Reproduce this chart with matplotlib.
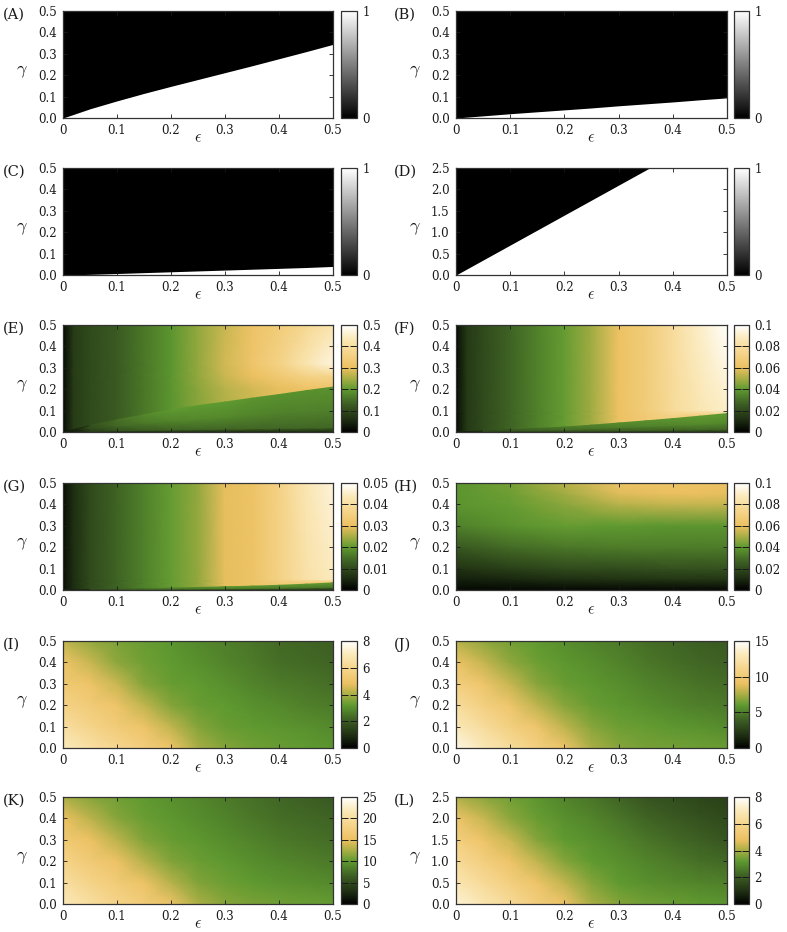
import numpy as np
import matplotlib
matplotlib.use('Agg')
import matplotlib.pyplot as plt
from matplotlib.colors import LinearSegmentedColormap, Normalize
from matplotlib.cm import ScalarMappable

plt.rcParams['font.family'] = ['DejaVu Serif']
plt.rcParams['mathtext.fontset'] = 'cm'

# ---------------------------------------------------------------- data
eps_ticks = [0, 0.1, 0.2, 0.3, 0.4, 0.5]
eps_tick_labels = ['0', '0.1', '0.2', '0.3', '0.4', '0.5']
gam_ticks = [0, 0.1, 0.2, 0.3, 0.4, 0.5]
gam_tick_labels = ['0.0', '0.1', '0.2', '0.3', '0.4', '0.5']
gam_ticks_big = [0, 0.5, 1.0, 1.5, 2.0, 2.5]
gam_tick_labels_big = ['0.0', '0.5', '1.0', '1.5', '2.0', '2.5']

# binary panels (A-D): boundary gamma_c(eps); black above, white below
bnd_eps = [0, 0.05, 0.1, 0.15, 0.2, 0.25, 0.3, 0.35, 0.4, 0.45, 0.5]
A_boundary = [0, 0.043, 0.080, 0.115, 0.148, 0.180, 0.212, 0.244, 0.277, 0.310, 0.344]
B_boundary = [0, 0.010, 0.020, 0.029, 0.038, 0.047, 0.057, 0.066, 0.075, 0.085, 0.094]
C_boundary = [0, 0.003, 0.007, 0.011, 0.015, 0.019, 0.023, 0.027, 0.031, 0.035, 0.040]
D_boundary = [0, 0.35, 0.70, 1.05, 1.40, 1.75, 2.10, 2.45, 2.80, 3.15, 3.50]

# E-G: upper field (eps x gamma grid) + lower field below a boundary
up_eps = [0, 0.005, 0.02, 0.05, 0.1, 0.15, 0.2, 0.25, 0.3, 0.35, 0.4, 0.45, 0.5]
E_up_gam = [0, 0.2, 0.26, 0.32, 0.5]
E_up = [
    [0, 0.03, 0.08, 0.10, 0.125, 0.16, 0.195, 0.225, 0.25, 0.27, 0.29, 0.30, 0.31],
    [0, 0.03, 0.08, 0.10, 0.125, 0.16, 0.195, 0.230, 0.26, 0.28, 0.295, 0.305, 0.31],
    [0, 0.03, 0.08, 0.10, 0.125, 0.16, 0.195, 0.235, 0.275, 0.30, 0.33, 0.36, 0.37],
    [0, 0.03, 0.08, 0.10, 0.125, 0.16, 0.195, 0.235, 0.28, 0.315, 0.36, 0.42, 0.47],
    [0, 0.03, 0.08, 0.10, 0.125, 0.16, 0.195, 0.235, 0.275, 0.31, 0.34, 0.38, 0.42],
]
F_up_gam = [0, 0.075, 0.1, 0.5]
F_up = [
    [0, 0.006, 0.015, 0.020, 0.027, 0.034, 0.041, 0.049, 0.061, 0.067, 0.072, 0.068, 0.064],
    [0, 0.006, 0.015, 0.020, 0.027, 0.034, 0.041, 0.049, 0.061, 0.067, 0.072, 0.068, 0.064],
    [0, 0.006, 0.015, 0.020, 0.027, 0.034, 0.041, 0.049, 0.061, 0.068, 0.078, 0.085, 0.090],
    [0, 0.006, 0.015, 0.020, 0.027, 0.034, 0.041, 0.049, 0.061, 0.068, 0.079, 0.090, 0.099],
]
G_up_gam = [0, 0.035, 0.05, 0.5]
G_up = [
    [0, 0.003, 0.006, 0.010, 0.0135, 0.017, 0.0205, 0.0235, 0.0295, 0.031, 0.034, 0.034, 0.032],
    [0, 0.003, 0.006, 0.010, 0.0135, 0.017, 0.0205, 0.0235, 0.0295, 0.031, 0.034, 0.034, 0.032],
    [0, 0.003, 0.006, 0.010, 0.0135, 0.017, 0.0205, 0.0235, 0.0295, 0.031, 0.036, 0.041, 0.044],
    [0, 0.003, 0.006, 0.010, 0.0135, 0.017, 0.0205, 0.0235, 0.0295, 0.031, 0.036, 0.0425, 0.0465],
]

low_eps = [0, 0.05, 0.1, 0.15, 0.2, 0.25, 0.3, 0.35, 0.4, 0.45, 0.5]
E_boundary = [0, 0.030, 0.057, 0.080, 0.104, 0.123, 0.140, 0.158, 0.175, 0.193, 0.210]
E_low_frac = [0, 0.1, 0.5, 1.0]
E_low = [
    [0, 0.03, 0.04, 0.045, 0.05, 0.05, 0.05, 0.05, 0.05, 0.05, 0.05],
    [0, 0.08, 0.11, 0.125, 0.135, 0.14, 0.14, 0.14, 0.14, 0.14, 0.14],
    [0, 0.10, 0.14, 0.16, 0.175, 0.18, 0.18, 0.175, 0.17, 0.17, 0.17],
    [0, 0.11, 0.15, 0.18, 0.20, 0.20, 0.20, 0.195, 0.19, 0.19, 0.19],
]
F_boundary = [0, 0.005, 0.011, 0.017, 0.023, 0.032, 0.042, 0.052, 0.0625, 0.074, 0.086]
F_low_frac = [0, 0.15, 0.5, 1.0]
F_low = [
    [0, 0.005, 0.008, 0.010, 0.011, 0.012, 0.012, 0.012, 0.012, 0.012, 0.012],
    [0, 0.012, 0.016, 0.019, 0.021, 0.023, 0.025, 0.026, 0.027, 0.028, 0.028],
    [0, 0.017, 0.022, 0.026, 0.029, 0.031, 0.033, 0.034, 0.035, 0.036, 0.036],
    [0, 0.020, 0.026, 0.030, 0.033, 0.035, 0.037, 0.038, 0.039, 0.040, 0.040],
]
G_boundary = [0, 0.002, 0.004, 0.006, 0.009, 0.012, 0.015, 0.018, 0.022, 0.027, 0.033]
G_low_frac = [0, 0.4, 1.0]
G_low = [
    [0, 0.003, 0.004, 0.005, 0.005, 0.005, 0.005, 0.005, 0.005, 0.005, 0.005],
    [0, 0.008, 0.011, 0.013, 0.014, 0.015, 0.016, 0.016, 0.016, 0.016, 0.016],
    [0, 0.010, 0.013, 0.016, 0.018, 0.019, 0.020, 0.020, 0.020, 0.020, 0.020],
]

# H: smooth field
H_eps = [0, 0.1, 0.2, 0.3, 0.4, 0.5]
H_gam = [0, 0.05, 0.1, 0.2, 0.3, 0.4, 0.45, 0.5]
H_val = [
    [0.002, 0.002, 0.002, 0.002, 0.002, 0.002],
    [0.008, 0.010, 0.012, 0.013, 0.014, 0.014],
    [0.013, 0.017, 0.020, 0.021, 0.022, 0.022],
    [0.024, 0.029, 0.032, 0.033, 0.033, 0.033],
    [0.034, 0.038, 0.041, 0.040, 0.039, 0.039],
    [0.039, 0.041, 0.046, 0.052, 0.054, 0.054],
    [0.039, 0.042, 0.049, 0.058, 0.060, 0.059],
    [0.039, 0.043, 0.052, 0.062, 0.062, 0.061],
]

# I-L: smooth fields on eps step 0.05, gamma rows
IL_eps = [0, 0.05, 0.1, 0.15, 0.2, 0.25, 0.3, 0.35, 0.4, 0.45, 0.5]
IJK_gam = [0, 0.1, 0.2, 0.3, 0.4, 0.5]
L_gam = [0, 0.5, 1.0, 1.5, 2.0, 2.5]
I_val = [
    [7.0, 6.5, 6.0, 5.5, 5.0, 4.0, 3.6, 3.4, 3.3, 3.2, 3.1],
    [6.4, 5.9, 5.4, 5.0, 4.3, 3.6, 3.3, 3.2, 3.1, 3.0, 2.9],
    [5.8, 5.4, 5.0, 4.3, 3.6, 3.3, 3.2, 3.0, 2.9, 2.7, 2.6],
    [5.3, 5.0, 4.4, 3.6, 3.3, 3.2, 3.0, 2.8, 2.6, 2.5, 2.4],
    [5.0, 4.4, 3.7, 3.4, 3.2, 3.0, 2.8, 2.6, 2.4, 2.3, 2.2],
    [4.3, 3.8, 3.5, 3.3, 3.1, 2.9, 2.7, 2.5, 2.3, 2.2, 2.1],
]
J_val = [
    [14.2, 13.0, 11.8, 10.6, 9.4, 7.6, 6.8, 6.5, 6.4, 6.3, 6.2],
    [13.0, 11.8, 10.6, 9.5, 8.0, 6.8, 6.3, 6.1, 5.9, 5.7, 5.5],
    [11.8, 10.6, 9.5, 8.0, 6.8, 6.2, 5.9, 5.6, 5.3, 5.0, 4.9],
    [10.5, 9.5, 8.2, 6.8, 6.2, 5.9, 5.6, 5.2, 4.9, 4.6, 4.4],
    [9.3, 8.2, 7.0, 6.3, 5.9, 5.6, 5.2, 4.8, 4.5, 4.2, 4.0],
    [7.8, 7.0, 6.4, 6.0, 5.6, 5.2, 4.9, 4.5, 4.2, 3.9, 3.7],
]
K_val = [
    [21.8, 20.0, 18.4, 17.0, 15.5, 12.6, 11.4, 10.9, 10.6, 10.4, 10.2],
    [20.0, 18.3, 16.8, 15.5, 13.0, 11.2, 10.5, 10.0, 9.6, 9.3, 9.0],
    [18.2, 16.7, 15.4, 13.0, 11.2, 10.4, 9.9, 9.3, 8.8, 8.4, 8.1],
    [16.6, 15.3, 13.2, 11.2, 10.3, 9.8, 9.2, 8.6, 8.1, 7.7, 7.4],
    [15.2, 13.2, 11.4, 10.4, 9.8, 9.2, 8.6, 8.0, 7.5, 7.1, 6.8],
    [12.6, 11.4, 10.6, 10.0, 9.4, 8.8, 8.2, 7.6, 7.0, 6.6, 6.2],
]
L_val = [
    [7.4, 6.8, 6.2, 5.5, 5.0, 4.0, 3.6, 3.4, 3.3, 3.2, 3.1],
    [6.8, 6.2, 5.6, 5.0, 4.3, 3.6, 3.2, 3.0, 2.9, 2.8, 2.7],
    [6.2, 5.6, 5.0, 4.3, 3.6, 3.2, 3.0, 2.8, 2.6, 2.4, 2.3],
    [5.6, 5.0, 4.4, 3.6, 3.2, 3.0, 2.8, 2.5, 2.3, 2.1, 1.9],
    [5.0, 4.4, 3.7, 3.3, 3.0, 2.8, 2.5, 2.2, 2.0, 1.8, 1.6],
    [4.1, 3.7, 3.4, 3.1, 2.8, 2.5, 2.2, 1.9, 1.7, 1.5, 1.4],
]

# colour-bar ranges and ticks
E_cb = (0.5, [0, 0.1, 0.2, 0.3, 0.4, 0.5], ['0', '0.1', '0.2', '0.3', '0.4', '0.5'])
F_cb = (0.1, [0, 0.02, 0.04, 0.06, 0.08, 0.1], ['0', '0.02', '0.04', '0.06', '0.08', '0.1'])
G_cb = (0.05, [0, 0.01, 0.02, 0.03, 0.04, 0.05], ['0', '0.01', '0.02', '0.03', '0.04', '0.05'])
H_cb = (0.1, [0, 0.02, 0.04, 0.06, 0.08, 0.1], ['0', '0.02', '0.04', '0.06', '0.08', '0.1'])
I_cb = (8, [0, 2, 4, 6, 8], ['0', '2', '4', '6', '8'])
J_cb = (15, [0, 5, 10, 15], ['0', '5', '10', '15'])
K_cb = (25, [0, 5, 10, 15, 20, 25], ['0', '5', '10', '15', '20', '25'])
L_cb = (8, [0, 2, 4, 6, 8], ['0', '2', '4', '6', '8'])

# ---------------------------------------------------------------- style
cmap = LinearSegmentedColormap.from_list('gyw', [
    (0.00, '#000000'),
    (0.12, '#1f3012'),
    (0.25, '#3a5a22'),
    (0.40, '#5f9a30'),
    (0.50, '#a8ae44'),
    (0.60, '#ecc060'),
    (0.75, '#f6d68e'),
    (0.88, '#fbeabc'),
    (1.00, '#ffffff'),
])

W, H = 787, 932
fig = plt.figure(figsize=(W / 100, H / 100), dpi=100)
ROW_TOPS = [11, 168, 325, 483, 641, 797]
AX_H = 107
COLS = [dict(ax_x=63, ax_w=270, cb_x=341, cb_w=16, lab_x=3),
        dict(ax_x=456, ax_w=271, cb_x=734, cb_w=15, lab_x=394)]
TXT = '#1a1a1a'


def make_axes(row, col, label, ymax, yticks, ylabels):
    c = COLS[col]
    top = ROW_TOPS[row]
    y0 = 1 - (top + AX_H) / H
    ax = fig.add_axes([c['ax_x'] / W, y0, c['ax_w'] / W, AX_H / H])
    cax = fig.add_axes([c['cb_x'] / W, y0, c['cb_w'] / W, AX_H / H])
    ax.set_xlim(0, 0.5)
    ax.set_ylim(0, ymax)
    ax.set_xticks(eps_ticks)
    ax.set_xticklabels(eps_tick_labels)
    ax.set_yticks(yticks)
    ax.set_yticklabels(ylabels)
    ax.tick_params(direction='in', length=3, width=0.6, top=True, right=True,
                   labelsize=8.5, colors=TXT)
    ax.tick_params(axis='x', pad=4.5)
    ax.tick_params(axis='y', pad=4.5)
    for s in ax.spines.values():
        s.set_linewidth(0.9)
        s.set_color('#333333')
    ax.text(0.5, -0.185, r'$\epsilon$', fontsize=11.5, color=TXT,
            transform=ax.transAxes, ha='center', va='center')
    ax.text(-0.152, 0.44, r'$\gamma$', fontsize=13, color=TXT,
            transform=ax.transAxes, ha='center', va='center')
    fig.text(c['lab_x'] / W, 1 - (top + 4) / H, label, fontsize=10.5,
             va='center', ha='left', color=TXT)
    return ax, cax


def add_cbar(cax, cm, vmax, ticks, labels):
    sm = ScalarMappable(norm=Normalize(0, vmax), cmap=cm)
    cb = fig.colorbar(sm, cax=cax)
    cb.set_ticks(ticks)
    cb.set_ticklabels(labels)
    cax.yaxis.set_ticks_position('both')
    cax.tick_params(direction='in', length=5, width=0.7, left=True, right=True,
                    labelleft=False, labelright=True, labelsize=8.5, pad=4, colors=TXT)
    cb.outline.set_linewidth(0.9)
    cb.outline.set_edgecolor('#333333')
    return cb


def binary_panel(row, col, label, boundary, ymax, yticks, ylabels):
    ax, cax = make_axes(row, col, label, ymax, yticks, ylabels)
    ax.set_facecolor('white')
    ax.fill_between(bnd_eps, boundary, ymax, color='black', lw=0)
    add_cbar(cax, plt.get_cmap('gray'), 1, [0, 1], ['0', '1'])


def split_panel(row, col, label, up_gam, up_val, boundary, low_frac, low_val, cbspec):
    vmax, ticks, labels = cbspec
    ax, cax = make_axes(row, col, label, 0.5, gam_ticks, gam_tick_labels)
    ax.pcolormesh(up_eps, up_gam, np.array(up_val), shading='gouraud',
                  cmap=cmap, vmin=0, vmax=vmax)
    X = np.tile(np.array(low_eps), (len(low_frac), 1))
    Y = np.outer(np.array(low_frac), np.array(boundary))
    ax.pcolormesh(X, Y, np.array(low_val), shading='gouraud',
                  cmap=cmap, vmin=0, vmax=vmax)
    add_cbar(cax, cmap, vmax, ticks, labels)


def smooth_panel(row, col, label, xs, ys, vals, ymax, yticks, ylabels, cbspec):
    vmax, ticks, labels = cbspec
    ax, cax = make_axes(row, col, label, ymax, yticks, ylabels)
    ax.pcolormesh(xs, ys, np.array(vals), shading='gouraud',
                  cmap=cmap, vmin=0, vmax=vmax)
    add_cbar(cax, cmap, vmax, ticks, labels)


binary_panel(0, 0, '(A)', A_boundary, 0.5, gam_ticks, gam_tick_labels)
binary_panel(0, 1, '(B)', B_boundary, 0.5, gam_ticks, gam_tick_labels)
binary_panel(1, 0, '(C)', C_boundary, 0.5, gam_ticks, gam_tick_labels)
binary_panel(1, 1, '(D)', D_boundary, 2.5, gam_ticks_big, gam_tick_labels_big)

split_panel(2, 0, '(E)', E_up_gam, E_up, E_boundary, E_low_frac, E_low, E_cb)
split_panel(2, 1, '(F)', F_up_gam, F_up, F_boundary, F_low_frac, F_low, F_cb)
split_panel(3, 0, '(G)', G_up_gam, G_up, G_boundary, G_low_frac, G_low, G_cb)
smooth_panel(3, 1, '(H)', H_eps, H_gam, H_val, 0.5, gam_ticks, gam_tick_labels, H_cb)

smooth_panel(4, 0, '(I)', IL_eps, IJK_gam, I_val, 0.5, gam_ticks, gam_tick_labels, I_cb)
smooth_panel(4, 1, '(J)', IL_eps, IJK_gam, J_val, 0.5, gam_ticks, gam_tick_labels, J_cb)
smooth_panel(5, 0, '(K)', IL_eps, IJK_gam, K_val, 0.5, gam_ticks, gam_tick_labels, K_cb)
smooth_panel(5, 1, '(L)', IL_eps, L_gam, L_val, 2.5, gam_ticks_big, gam_tick_labels_big, L_cb)

fig.savefig('out.png', dpi=100)
